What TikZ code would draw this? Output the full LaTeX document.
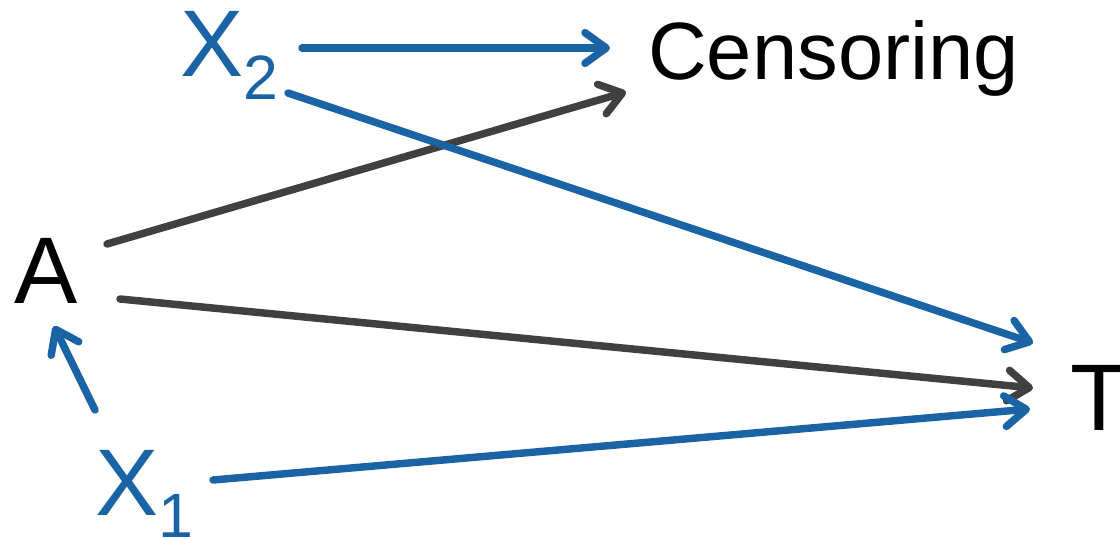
\documentclass[tikz,border=0pt]{standalone}
\usepackage{fontspec}
\setmainfont{Liberation Sans}
\usetikzlibrary{arrows.meta}
\definecolor{dagblue}{HTML}{1A64A6}
\definecolor{daggrey}{HTML}{404040}
\tikzset{
  lbl/.style={inner sep=0pt, anchor=base west, font=\fontsize{71}{71}\selectfont},
  cens/.style={inner sep=0pt, anchor=base west, font=\fontsize{61}{61}\selectfont},
  edge/.style={line width=5.6pt, line cap=round, -{Straight Barb[length=16pt,width=23pt,round]}},
  blueedge/.style={edge, draw=dagblue},
  greyedge/.style={edge, draw=daggrey},
}
\newcommand{\subdig}[1]{{\fontsize{47}{47}\selectfont\raisebox{-17pt}{#1}}}
\begin{document}
\begin{tikzpicture}[x=0.75pt,y=-0.75pt]
\useasboundingbox (0,0) rectangle (1120,538);
\node[lbl, text=dagblue] (x2) at (180,77) {X\subdig{2}};
\node[cens] (cens) at (648,80) {Censoring};
\node[lbl] (a) at (14,303) {A};
\node[lbl] (t) at (1070,430) {T};
\node[lbl, text=dagblue] (x1) at (95,515) {X\subdig{1}};
% connector end points near the nodes
\coordinate (x2-c) at (302,48);
\coordinate (c-x2) at (610,48);
\coordinate (x2-t) at (288,93);
\coordinate (t-x2) at (1033,343);
\coordinate (a-c) at (107,244);
\coordinate (c-a) at (626,92);
\coordinate (a-t) at (120,299);
\coordinate (t-a) at (1033,388);
\coordinate (x1-a) at (95,410);
\coordinate (a-x1) at (54,326);
\coordinate (x1-t) at (213,480);
\coordinate (t-x1) at (1030,409);
\draw[greyedge] (a-c) -- (c-a);
\draw[greyedge] (a-t) -- (t-a);
\draw[blueedge] (x2-c) -- (c-x2);
\draw[blueedge] (x2-t) -- (t-x2);
\draw[blueedge] (x1-a) -- (a-x1);
\draw[blueedge] (x1-t) -- (t-x1);
\end{tikzpicture}
\end{document}
